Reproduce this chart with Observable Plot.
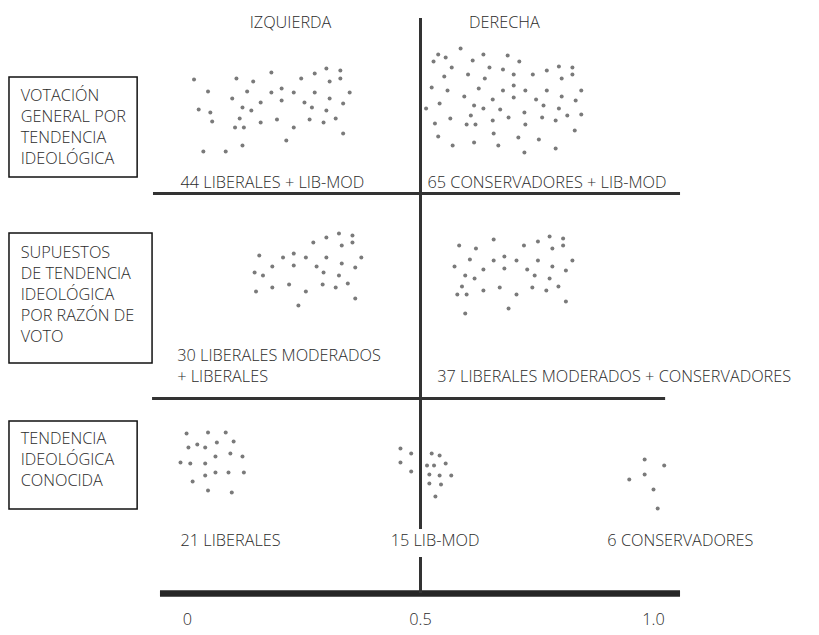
<!DOCTYPE html>
<html><head><meta charset="utf-8">
<script src="https://cdn.jsdelivr.net/npm/d3@7"></script>
<script src="https://cdn.jsdelivr.net/npm/@observablehq/plot@0.6"></script>
<style>
html,body{margin:0;padding:0;background:#fff;}
#chart{width:819px;height:635px;overflow:hidden;}
#chart svg text{font-weight:300;}
</style></head><body><div id="chart"></div>
<script>
// ---- data ----
const sideLabels = ["IZQUIERDA", "DERECHA"];
const rowTitles = [
  ["VOTACIÓN", "GENERAL POR", "TENDENCIA", "IDEOLÓGICA"],
  ["SUPUESTOS", "DE TENDENCIA", "IDEOLÓGICA", "POR RAZÓN DE", "VOTO"],
  ["TENDENCIA", "IDEOLÓGICA", "CONOCIDA"]
];
const groupLabels = ["44 LIBERALES + LIB-MOD", "65 CONSERVADORES + LIB-MOD",
  "30 LIBERALES MODERADOS", "+ LIBERALES", "37 LIBERALES MODERADOS + CONSERVADORES",
  "21 LIBERALES", "15 LIB-MOD", "6 CONSERVADORES"];
const xTicks = [0, 0.5, 1];
const xTickLabels = ["0", "0.5", "1.0"];

// each voter: [ideology position, vertical jitter]
const votacionIzq = [
  [0.014,79],[0.105,78],[0.141,81],[0.180,72],[0.244,78],[0.273,73],[0.298,68],[0.328,70],[0.305,81],[0.328,78],
  [0.044,91],[0.128,91],[0.180,92],[0.202,88],[0.228,92],[0.273,92],[0.348,92],
  [0.096,98],[0.157,102],[0.202,100],[0.251,102],[0.305,98],[0.334,103],
  [0.024,109],[0.049,112],[0.118,107],[0.137,110],[0.267,107],[0.298,110],
  [0.053,121],[0.112,118],[0.157,122],[0.192,119],[0.262,119],[0.292,122],[0.318,118],
  [0.102,127],[0.121,127],[0.228,127],[0.334,133],
  [0.212,140],[0.118,145],[0.034,151],[0.082,151]
];
const votacionDer = [
  [0.586,48],[0.538,54],[0.554,57],[0.528,61],[0.635,54],[0.612,60],[0.687,55],[0.712,61],[0.567,67],[0.648,67],
  [0.677,69],[0.797,66],[0.826,67],[0.771,70],[0.551,76],[0.602,74],[0.638,78],[0.700,74],[0.741,74],[0.803,78],
  [0.826,74],[0.524,87],[0.558,90],[0.625,88],[0.677,90],[0.700,85],[0.725,90],[0.771,90],[0.845,90],[0.594,96],
  [0.655,99],[0.700,97],[0.748,99],[0.803,96],[0.833,100],[0.541,103],[0.615,105],[0.764,105],[0.512,108],[0.635,108],
  [0.671,109],[0.723,112],[0.797,108],[0.608,115],[0.564,118],[0.655,120],[0.689,117],[0.761,117],[0.790,120],[0.815,115],
  [0.845,114],[0.531,123],[0.599,124],[0.618,124],[0.725,124],[0.831,130],[0.538,136],[0.657,133],[0.710,137],[0.754,139],
  [0.569,145],[0.615,142],[0.667,145],[0.790,148],[0.723,152]
];
const supuestosIzq = [
  [0.325,233],[0.354,235],[0.298,237],[0.270,242],[0.331,245],[0.354,242],[0.154,255],[0.205,257],[0.228,253],[0.254,257],
  [0.298,257],[0.373,257],[0.182,266],[0.228,265],[0.277,266],[0.331,263],[0.360,267],[0.144,272],[0.162,275],[0.292,272],
  [0.325,275],[0.218,284],[0.290,284],[0.182,287],[0.318,287],[0.344,283],[0.147,291],[0.254,291],[0.360,298],[0.238,305]
];
const supuestosDer = [
  [0.657,239],[0.752,241],[0.777,236],[0.806,238],[0.583,245],[0.619,248],[0.722,245],[0.783,248],[0.806,245],[0.606,259],
  [0.657,260],[0.680,256],[0.706,260],[0.752,260],[0.826,260],[0.573,266],[0.635,269],[0.680,268],[0.729,269],[0.783,266],
  [0.812,270],[0.596,275],[0.616,278],[0.745,275],[0.777,278],[0.589,286],[0.670,287],[0.740,287],[0.796,286],[0.635,290],
  [0.770,290],[0.579,294],[0.599,294],[0.706,294],[0.812,301],[0.689,308],[0.596,313]
];
const conocidaLib = [
  [-0.002,433],[0.044,432],[0.082,432],[0.002,447],[0.021,444],[0.038,447],[0.063,442],[0.099,441],[0.060,456],[0.092,453],
  [0.118,456],[-0.015,462],[0.006,463],[0.038,463],[0.038,475],[0.060,472],[0.088,472],[0.121,472],[0.011,481],[0.044,490],[0.095,492]
];
const conocidaLibMod = [
  [0.457,448],[0.480,453],[0.457,462],[0.480,471],[0.524,453],[0.541,455],[0.514,465],[0.529,465],[0.554,463],[0.519,474],
  [0.541,475],[0.566,475],[0.519,483],[0.544,484],[0.532,496]
];
const conocidaCons = [
  [0.981,459],[1.023,465],[0.981,474],[0.948,479],[1.000,489],[1.009,508]
];

// ---- layout (positions in scale units) ----
const layout = {
  sideX: [0.221, 0.680], sideY: 22,
  boxes: [
    {x1: -0.382, x2: -0.107, y1: 77, y2: 177, top: 95},
    {x1: -0.382, x2: -0.075, y1: 233, y2: 363, top: 252},
    {x1: -0.382, x2: -0.107, y1: 421, y2: 509, top: 438}
  ],
  titleX: -0.358, lineStep: 21,
  groupX: [-0.015, 0.515, -0.022, -0.022, 0.536, -0.015, 0.436, 0.901],
  groupY: [182, 182, 355, 376, 376, 540, 540, 540],
  separators: [
    {x1: -0.073, x2: 1.058, y: 193},
    {x1: -0.075, x2: 1.026, y: 398}
  ],
  baseline: {x1: -0.058, x2: 1.058, y: 593},
  divider: [{y1: 18, y2: 529}, {y1: 557, y2: 593}]
};

const clusters = [votacionIzq, votacionDer, supuestosIzq, supuestosDer, conocidaLib, conocidaLibMod, conocidaCons];
const voters = clusters.flatMap(c => c.map(([x, y]) => ({x, y})));
const titleLines = rowTitles.flatMap((lines, i) =>
  lines.map((t, j) => ({t, y: layout.boxes[i].top + j * layout.lineStep})));
const groups = groupLabels.map((t, i) => ({t, x: layout.groupX[i], y: layout.groupY[i]}));
const sides = sideLabels.map((t, i) => ({t, x: layout.sideX[i]}));

const ink = "#2b2b2b";
const fs = 16.3;
const chart = Plot.plot({
  width: 819, height: 635,
  marginTop: 0, marginLeft: 0, marginRight: 0, marginBottom: 635 - layout.baseline.y,
  x: {domain: [0, 1], range: [187, 653]},
  y: {domain: [0, 635], range: [0, 635], axis: null},
  style: {fontFamily: "'Open Sans', sans-serif", fontSize: fs + "px", background: "#fff", color: ink},
  marks: [
    Plot.axisX({ticks: xTicks, tickFormat: (d, i) => xTickLabels[i], tickSize: 0, tickPadding: 20,
      fontSize: fs, fill: ink, label: null}),
    Plot.rect(layout.boxes, {x1: "x1", x2: "x2", y1: "y1", y2: "y2", fill: "none", stroke: "#111", strokeWidth: 1.5}),
    Plot.text(titleLines, {x: layout.titleX, y: "y", text: "t", textAnchor: "start", fill: ink, fontSize: fs}),
    Plot.ruleY(layout.separators, {x1: "x1", x2: "x2", y: "y", stroke: "#333", strokeWidth: 3}),
    Plot.ruleY([layout.baseline], {x1: "x1", x2: "x2", y: "y", stroke: "#262626", strokeWidth: 6.5}),
    Plot.ruleX(layout.divider, {x: 0.5, y1: "y1", y2: "y2", stroke: "#333", strokeWidth: 3}),
    Plot.text(sides, {x: "x", y: layout.sideY, text: "t", fill: ink, fontSize: fs}),
    Plot.text(groups, {x: "x", y: "y", text: "t", textAnchor: "start", fill: ink, fontSize: fs}),
    Plot.dot(voters, {x: "x", y: "y", r: 2, fill: "#7a7a7a", stroke: "none"})
  ]
});
document.getElementById("chart").appendChild(chart);
</script></body></html>
